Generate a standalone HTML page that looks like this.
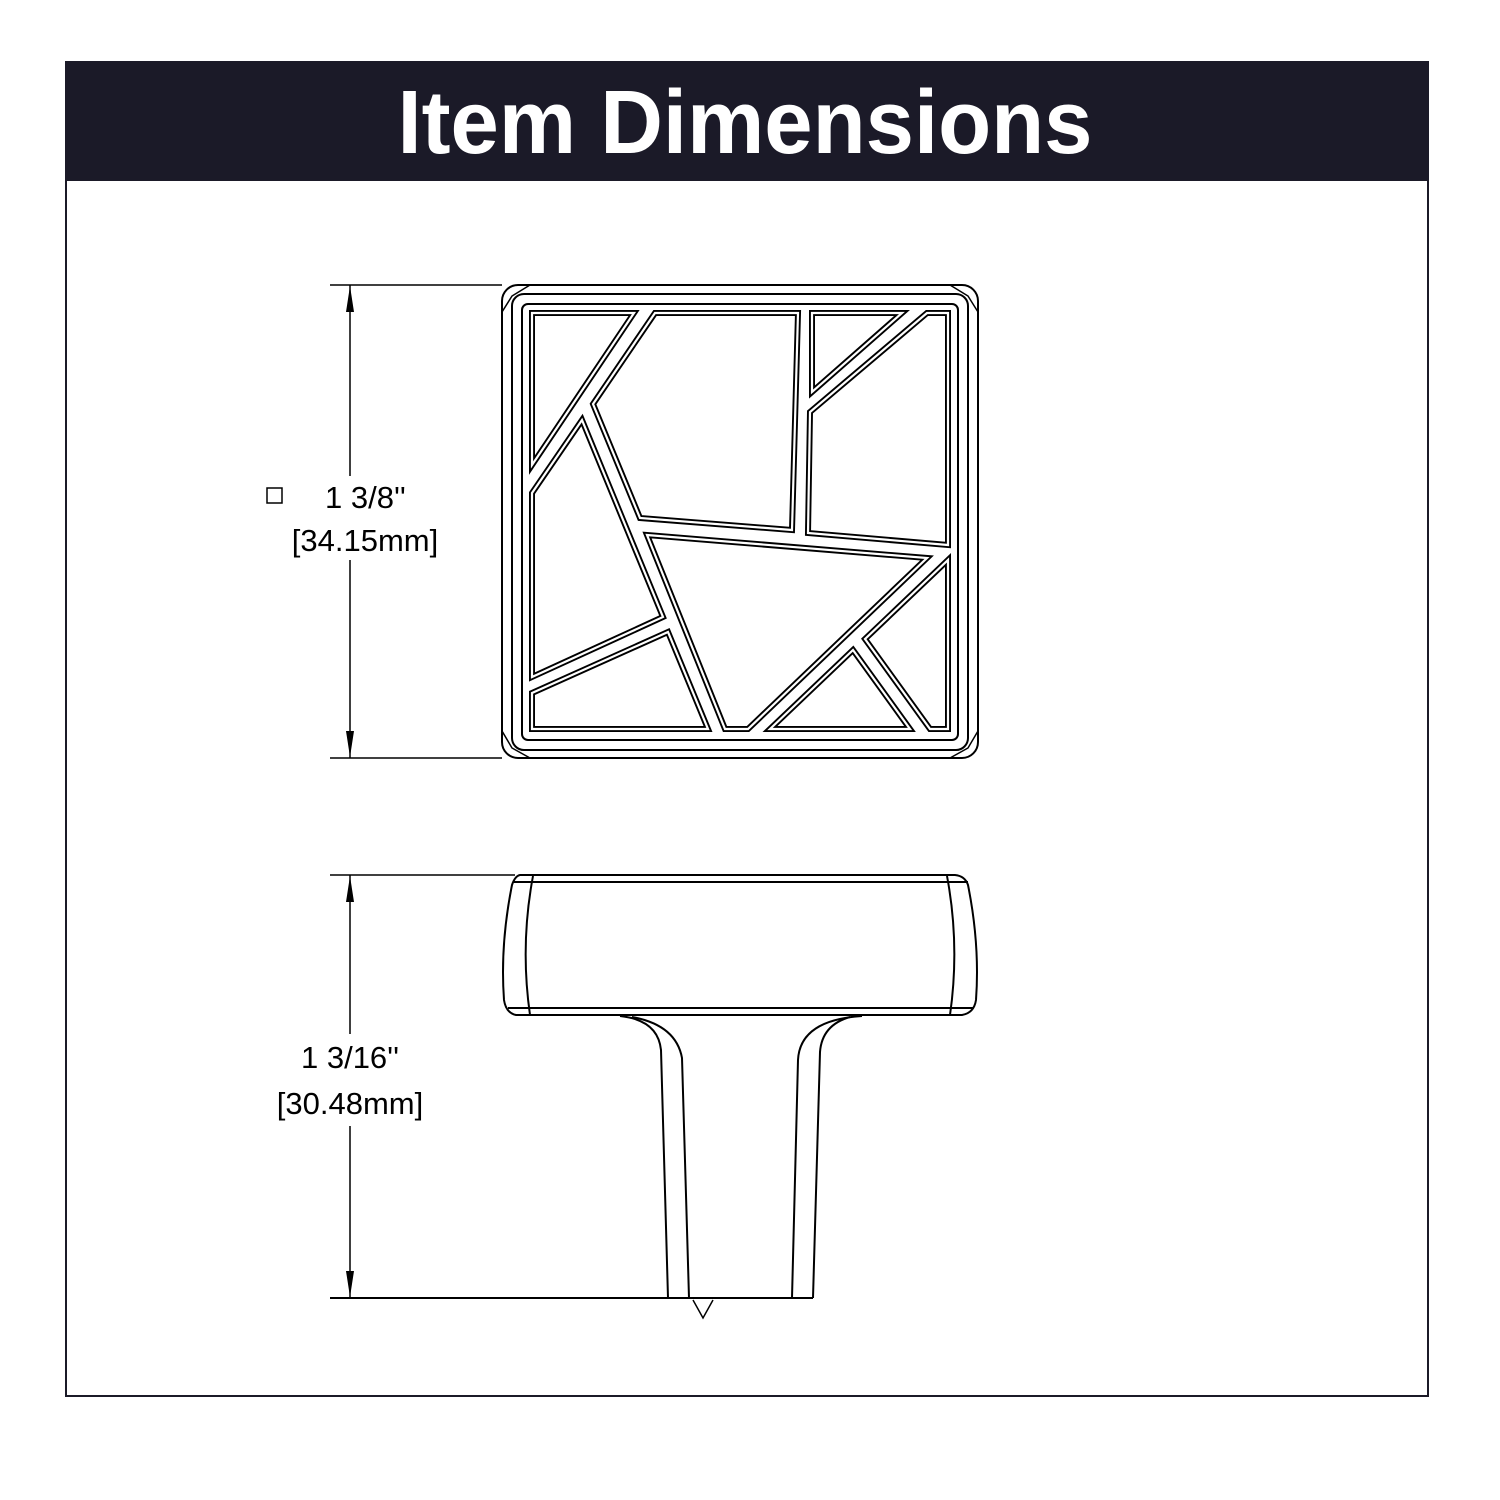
<!DOCTYPE html>
<html><head><meta charset="utf-8"><style>html,body{margin:0;padding:0;background:#fff}svg{display:block}</style></head>
<body>
<svg width="1500" height="1500" viewBox="0 0 1500 1500" xmlns="http://www.w3.org/2000/svg" font-family="Liberation Sans, sans-serif">
<rect x="0" y="0" width="1500" height="1500" fill="#fff"/>
<rect x="66" y="62" width="1362" height="1334" fill="none" stroke="#1b1a28" stroke-width="2"/>
<rect x="66" y="62" width="1362" height="119" fill="#1b1a28"/>
<text x="745" y="153" text-anchor="middle" font-size="90" font-weight="bold" fill="#fff" textLength="695" lengthAdjust="spacingAndGlyphs">Item Dimensions</text>

<g fill="none" stroke="#000" stroke-width="2">
<rect x="502" y="285" width="476" height="473" rx="16"/>
<rect x="512" y="294" width="456" height="456" rx="12"/>
<rect x="522" y="304" width="436" height="436" rx="6"/>
<path d="M502 312 L512 296 L530 285 M978 312 L968 296 L950 285 M502 731 L512 748 L530 758 M978 731 L968 748 L950 758" stroke-width="1.5"/>
</g>
<g fill="none" stroke="#000" stroke-width="6" stroke-linejoin="miter">
<polygon points="532,313 634,313 532,465"/>
<polygon points="655,313 798,313 792,530 640,518 593,404"/>
<polygon points="812,313 902,313 812,392"/>
<polygon points="927,313 948,313 948,545 808,533 810,412"/>
<polygon points="582,420 663,617 532,677 532,493"/>
<polygon points="532,693 668,632 708,729 532,729"/>
<polygon points="647,535 927,558 748,729 725,729"/>
<polygon points="948,560 948,729 930,729 865,639"/>
<polygon points="853,650 910,729 770,729"/>
</g>
<g fill="none" stroke="#fff" stroke-width="2.2">
<polygon points="532,313 634,313 532,465"/>
<polygon points="655,313 798,313 792,530 640,518 593,404"/>
<polygon points="812,313 902,313 812,392"/>
<polygon points="927,313 948,313 948,545 808,533 810,412"/>
<polygon points="582,420 663,617 532,677 532,493"/>
<polygon points="532,693 668,632 708,729 532,729"/>
<polygon points="647,535 927,558 748,729 725,729"/>
<polygon points="948,560 948,729 930,729 865,639"/>
<polygon points="853,650 910,729 770,729"/>
</g>

<g fill="none" stroke="#000" stroke-width="2">
<path d="M520 875 L955 875 Q965 876 968 885 Q980 945 976 1000 Q974 1013 962 1015 L516 1015 Q506 1013 504 1000 Q500 945 512 885 Q515 876 520 875 Z"/>
<line x1="513" y1="882" x2="968" y2="882"/>
<line x1="508" y1="1008" x2="973" y2="1008"/>
<path d="M533 876 Q520 945 530 1015"/>
<path d="M947 876 Q960 945 950 1015"/>
<path d="M620 1016 Q658 1020 661 1050 L668 1298"/>
<path d="M632 1017 Q676 1025 682 1058 L689 1298"/>
<path d="M862 1016 Q800 1020 798 1060 L792 1298"/>
<path d="M850 1017 Q822 1025 820 1052 L813 1298"/>
<line x1="330" y1="1298" x2="813" y2="1298"/>
<path d="M693 1300 L703 1318 L713 1300" stroke-width="1.5"/>
<line x1="330" y1="285" x2="502" y2="285" stroke-width="1.5"/>
<line x1="330" y1="758" x2="502" y2="758" stroke-width="1.5"/>
<line x1="350" y1="285" x2="350" y2="758" stroke-width="1.5"/>
<line x1="330" y1="875" x2="515" y2="875" stroke-width="1.5"/>
<line x1="350" y1="875" x2="350" y2="1298" stroke-width="1.5"/>
</g>
<g fill="#000">
<polygon points="350,286 346,312 354,312"/>
<polygon points="350,757 346,731 354,731"/>
<polygon points="350,876 346,902 354,902"/>
<polygon points="350,1297 346,1271 354,1271"/>
</g>
<rect x="262" y="476" width="185" height="84" fill="#fff"/>
<rect x="268" y="1034" width="162" height="92" fill="#fff"/>
<rect x="267" y="488" width="15" height="15" fill="none" stroke="#000" stroke-width="1.5"/>
<g font-size="31" fill="#000">
<text x="325" y="508">1 3/8''</text>
<text x="365" y="551" text-anchor="middle">[34.15mm]</text>
<text x="350" y="1068" text-anchor="middle">1 3/16''</text>
<text x="350" y="1114" text-anchor="middle">[30.48mm]</text>
</g>
</svg>
</body></html>
